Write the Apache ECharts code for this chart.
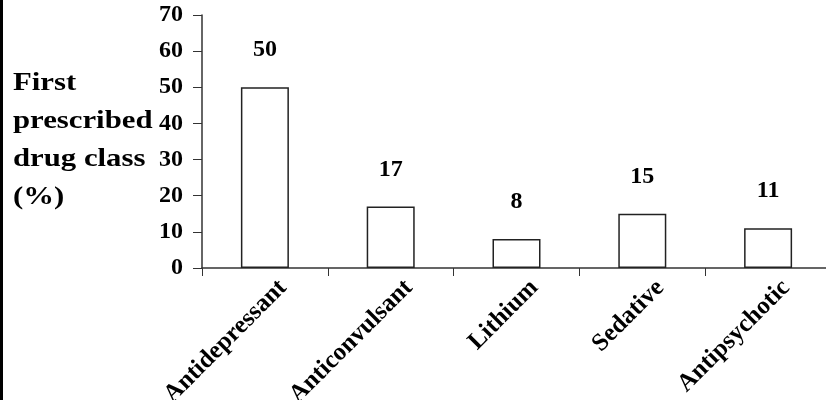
<!DOCTYPE html>
<html>
<head>
<meta charset="utf-8">
<script src="https://cdn.jsdelivr.net/npm/echarts@6/dist/echarts.min.js"></script>
<style>
  html, body { margin: 0; padding: 0; background: #fff; }
  #c1 { width: 826px; height: 400px; }
</style>
</head>
<body>
<div id="c1"></div>
<script>
var drugClass = ['Antidepressant', 'Anticonvulsant', 'Lithium', 'Sedative', 'Antipsychotic'];
var percent = [50, 17, 8, 15, 11];
var yTicks = [0, 10, 20, 30, 40, 50, 60, 70];
var yName = ['First', 'prescribed', 'drug class', '(%)'];

var serif = '"Liberation Serif", "Times New Roman", serif';

function showChart() {
	var myChart = echarts.init(document.getElementById('c1'));
	// 第二个grid只用来放倾斜的类别标签（整体右移一点）
	var option = {
		animation: false,
		grid: [
			{ left: 202, right: -5, top: 15, bottom: 132, containLabel: false, outerBoundsMode: 'none' },
			{ left: 220, right: -23, top: 15, bottom: 132, containLabel: false, outerBoundsMode: 'none' }
		],
		graphic: [
			{ type: 'rect', shape: { x: 0, y: 0, width: 3, height: 400 }, style: { fill: '#000' } },
			{
				type: 'text', x: 13, y: 65, scaleX: 1.23, originX: 0, originY: 0,
				style: {
					text: yName.join('\n'),
					font: 'bold 25px ' + serif,
					lineHeight: 38,
					verticalAlign: 'top',
					fill: '#000'
				}
			}
		],
		xAxis: [{
			type: 'category',
			gridIndex: 0,
			data: drugClass,
			axisLine: { lineStyle: { color: '#333', width: 1.5 } },
			axisTick: { show: true, length: 8, lineStyle: { color: '#333' } },
			axisLabel: { show: false }
		}, {
			type: 'category',
			gridIndex: 1,
			data: drugClass,
			axisLine: { show: false },
			axisTick: { show: false },
			axisLabel: {
				rotate: 45, margin: 16, interval: 0,
				color: '#000', fontWeight: 'bold', fontSize: 25, fontFamily: serif
			}
		}],
		yAxis: [{
			type: 'value',
			gridIndex: 0,
			min: yTicks[0], max: yTicks[yTicks.length - 1], interval: 10,
			splitLine: { show: false },
			axisLine: { show: true, lineStyle: { color: '#333', width: 1.5 } },
			axisTick: { show: true, length: 9, lineStyle: { color: '#333' } },
			axisLabel: {
				margin: 19, color: '#000', fontWeight: 'bold', fontSize: 24, fontFamily: serif
			}
		}, {
			type: 'value',
			gridIndex: 1,
			show: false,
			min: 0, max: 70
		}],
		series: [{
			type: 'bar',
			xAxisIndex: 0,
			yAxisIndex: 0,
			data: percent,
			barWidth: 48,
			itemStyle: { color: '#fff', borderColor: '#222', borderWidth: 1.5 },
			label: {
				show: true, position: 'top', distance: 25,
				color: '#000', fontWeight: 'bold', fontSize: 24, fontFamily: serif
			}
		}]
	};
	myChart.setOption(option);
}
showChart();
</script>
</body>
</html>
